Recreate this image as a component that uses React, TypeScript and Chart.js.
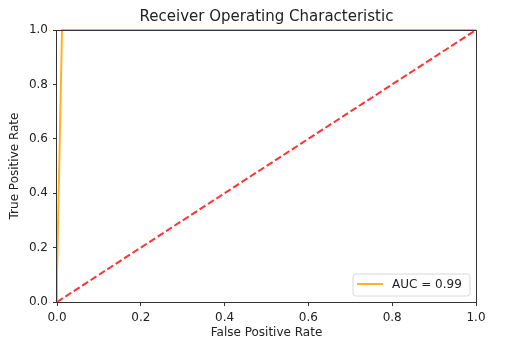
import React, { useEffect, useRef } from "react";
import { Chart, registerables } from "chart.js";

Chart.register(...registerables);

const fpr = [0, 0, 0.012, 1];
const tpr = [0, 0.1, 1, 1];
const diagX = [0, 1];
const diagY = [0, 1];
const tickValues = [0, 0.2, 0.4, 0.6, 0.8, 1.0];
const titleText = "Receiver Operating Characteristic";
const xTitle = "False Positive Rate";
const yTitle = "True Positive Rate";
const curveLabel = "AUC = 0.99";

const FONT = '"DejaVu Sans", sans-serif';

export default function App() {
  const ref = useRef<HTMLCanvasElement | null>(null);

  useEffect(() => {
    document.body.style.margin = "0";
    const canvas = ref.current;
    if (!canvas) return;

    const decor = {
      id: "decor",
      afterDatasetsDraw(chart: any) {
        const { ctx, chartArea } = chart;
        const { left, right, top, bottom } = chartArea;
        ctx.save();
        // frame
        ctx.strokeStyle = "#333";
        ctx.lineWidth = 1;
        ctx.strokeRect(left - 0.5, top + 0.5, right - left + 1, bottom - top);
        // title
        ctx.fillStyle = "#222";
        ctx.textAlign = "center";
        ctx.textBaseline = "middle";
        ctx.font = `15px ${FONT}`;
        ctx.fillText(titleText, (left + right) / 2, 17);
        // axis titles
        ctx.font = `12px ${FONT}`;
        ctx.fillText(xTitle, (left + right) / 2, 333);
        ctx.save();
        ctx.translate(15, (top + bottom) / 2);
        ctx.rotate(-Math.PI / 2);
        ctx.fillText(yTitle, 0, 0);
        ctx.restore();
        // legend
        const bx = right - 123, by = bottom - 28, bw = 117, bh = 22;
        ctx.beginPath();
        const r = 3;
        ctx.moveTo(bx + r, by);
        ctx.lineTo(bx + bw - r, by);
        ctx.quadraticCurveTo(bx + bw, by, bx + bw, by + r);
        ctx.lineTo(bx + bw, by + bh - r);
        ctx.quadraticCurveTo(bx + bw, by + bh, bx + bw - r, by + bh);
        ctx.lineTo(bx + r, by + bh);
        ctx.quadraticCurveTo(bx, by + bh, bx, by + bh - r);
        ctx.lineTo(bx, by + r);
        ctx.quadraticCurveTo(bx, by, bx + r, by);
        ctx.closePath();
        ctx.fillStyle = "rgba(255,255,255,0.8)";
        ctx.fill();
        ctx.strokeStyle = "#d8d8d8";
        ctx.lineWidth = 1;
        ctx.stroke();
        const ds = chart.data.datasets[0];
        ctx.strokeStyle = ds.borderColor;
        ctx.lineWidth = 2;
        ctx.beginPath();
        ctx.moveTo(bx + 4, by + 10);
        ctx.lineTo(bx + 30, by + 10);
        ctx.stroke();
        ctx.fillStyle = "#222";
        ctx.textAlign = "left";
        ctx.font = `12px ${FONT}`;
        ctx.fillText(ds.label, bx + 39, by + 11);
        ctx.restore();
      },
    };

    const chart = new Chart(canvas, {
      type: "scatter",
      data: {
        datasets: [
          {
            label: curveLabel,
            data: fpr.map((x, i) => ({ x, y: tpr[i] })),
            showLine: true,
            borderColor: "rgba(255,165,0,0.85)",
            borderWidth: 2,
            pointRadius: 0,
            clip: false,
          } as any,
          {
            label: "chance",
            data: diagX.map((x, i) => ({ x, y: diagY[i] })),
            showLine: true,
            borderColor: "rgba(255,0,0,0.8)",
            borderWidth: 2,
            borderDash: [7, 3],
            pointRadius: 0,
            clip: false,
          } as any,
        ],
      },
      options: {
        animation: false,
        responsive: false,
        layout: { padding: { left: 0, right: 46, top: 30, bottom: 0 } },
        plugins: {
          legend: { display: false },
          title: { display: false },
          tooltip: { enabled: false },
        },
        scales: {
          x: {
            type: "linear",
            min: 0,
            max: 1,
            afterFit(scale: any) {
              scale.height = 46;
            },
            afterBuildTicks(scale: any) {
              scale.ticks = tickValues.map((v) => ({ value: v }));
            },
            border: { display: false },
            grid: {
              display: true,
              drawOnChartArea: false,
              drawTicks: true,
              tickLength: 4,
              color: "#333",
            },
            ticks: {
              padding: 5,
              color: "#222",
              font: { family: FONT, size: 12 },
              maxRotation: 0,
              callback: (v: any) => Number(v).toFixed(1),
            },
          },
          y: {
            type: "linear",
            min: 0,
            max: 1,
            afterFit(scale: any) {
              scale.width = 57;
            },
            afterBuildTicks(scale: any) {
              scale.ticks = tickValues.map((v) => ({ value: v }));
            },
            border: { display: false },
            grid: {
              display: true,
              drawOnChartArea: false,
              drawTicks: true,
              tickLength: 4,
              color: "#333",
            },
            ticks: {
              padding: 5,
              color: "#222",
              font: { family: FONT, size: 12 },
              callback: (v: any) => Number(v).toFixed(1),
            },
          },
        },
      },
      plugins: [decor],
    });

    return () => chart.destroy();
  }, []);

  return (
    <div style={{ position: "absolute", left: 0, top: 0 }}>
      <canvas ref={ref} width={522} height={348} style={{ display: "block" }} />
    </div>
  );
}
